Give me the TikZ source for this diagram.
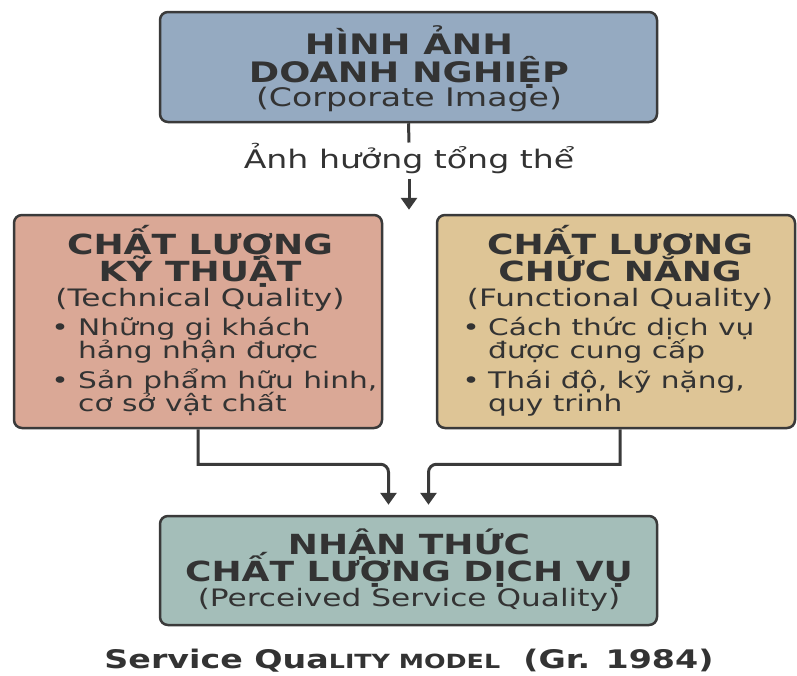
\documentclass[tikz,border=0pt]{standalone}
\usepackage{fontspec}
\setmainfont{DejaVu Sans}[FakeStretch=1.3]
\usetikzlibrary{arrows.meta}

\definecolor{ink}{HTML}{333333}
\definecolor{edge}{HTML}{3A3A3A}
\definecolor{imgfill}{HTML}{95AAC1}
\definecolor{techfill}{HTML}{DAA896}
\definecolor{funcfill}{HTML}{DEC596}
\definecolor{percfill}{HTML}{A4BEB9}

\tikzset{
  box/.style={draw=edge, line width=2.5pt, rounded corners=8pt, inner sep=0pt},
  ttl/.style={anchor=base, inner sep=0pt, text=ink, font=\bfseries\fontsize{27.7}{27.7}\selectfont},
  sub/.style={anchor=base, inner sep=0pt, text=ink, font=\fontsize{24}{24}\selectfont},
  itm/.style={anchor=base west, inner sep=0pt, text=ink, font=\fontsize{22.8}{22.8}\selectfont},
  conn/.style={draw=edge, line width=3pt},
  tip/.style={-{Triangle[width=16pt,length=12pt]}},
}

\begin{document}
\begin{tikzpicture}[x=1pt,y=-1pt]
\useasboundingbox (0,0) rectangle (797,675);

% boxes
\node[box, fill=imgfill,  minimum width=497pt, minimum height=110pt] (img)  at (408.5,67) {};
\node[box, fill=techfill, minimum width=368pt, minimum height=213pt] (tech) at (198,321.5) {};
\node[box, fill=funcfill, minimum width=358pt, minimum height=213pt] (func) at (616,321.5) {};
\node[box, fill=percfill, minimum width=497pt, minimum height=109pt] (perc) at (408.5,570.5) {};

% corporate image
\node[ttl, font=\bfseries\fontsize{28.2}{28.2}\selectfont] (imgA) at (409,54) {HÌNH ẢNH};
\node[ttl, font=\bfseries\fontsize{28.2}{28.2}\selectfont] (imgB) at (409,82) {DOANH NGHIỆP};
\node[sub, font=\fontsize{25.5}{25.5}\selectfont] (imgC) at (409,106) {(Corporate Image)};

% label on the top connector
\node[anchor=base, inner sep=0pt, text=ink, font=\fontsize{25.5}{25.5}\selectfont] (lbl) at (409,168) {Ảnh hưởng tổng thể};

% technical quality
\node[ttl] (techA) at (200,254) {CHẤT LƯỢNG};
\node[ttl] (techB) at (200,281) {KỸ THUẬT};
\node[sub] (techC) at (200,306) {(Technical Quality)};
\node[itm, anchor=base] (techD) at (60,335) {•};
\node[itm] (techE) at (78,335) {Những gi khách};
\node[itm] (techF) at (78,358) {hảng nhận được};
\node[itm, anchor=base] (techG) at (60,388) {•};
\node[itm] (techH) at (78,388) {Sản phẩm hữu hinh,};
\node[itm] (techI) at (78,411) {cơ sở vật chất};

% functional quality
\node[ttl] (funcA) at (620,254) {CHẤT LƯƠNG};
\node[ttl] (funcB) at (620,281) {CHỨC NẮNG};
\node[sub] (funcC) at (620,306) {(Functional Quality)};
\node[itm, anchor=base] (funcD) at (471,335) {•};
\node[itm] (funcE) at (488,335) {Cách thức dịch vụ};
\node[itm] (funcF) at (488,358) {được cung cấp};
\node[itm, anchor=base] (funcG) at (471,388) {•};
\node[itm] (funcH) at (488,388) {Thái độ, kỹ nặng,};
\node[itm] (funcI) at (488,411) {quy trinh};

% perceived service quality
\node[ttl] (percA) at (409,554) {NHẬN THỨC};
\node[ttl] (percB) at (409,581) {CHẤT LƯỢNG DỊCH VỤ};
\node[sub] (percC) at (409,606) {(Perceived Service Quality)};

% caption
\node[anchor=base, inner sep=0pt, text=ink, font=\bfseries\fontsize{25.6}{25.6}\selectfont] (cap) at (409,668)
  {Service Qua{\fontsize{19.5}{19.5}\selectfont LITY MODEL}\ \ (Gr. 1984)};

% connectors
\draw[conn] (img.south) -- (lbl.north);
\draw[conn, tip] ([yshift=-5pt]lbl.south) -- ([yshift=4pt]lbl.south |- tech.north);
\draw[conn, tip] (tech.south) -- ++(0,35) [rounded corners=8pt] -| ([xshift=-20pt,yshift=10pt]perc.north);
\draw[conn, tip] ([xshift=4pt]func.south) -- ++(0,35) [rounded corners=8pt] -| ([xshift=20pt,yshift=10pt]perc.north);
\end{tikzpicture}
\end{document}
